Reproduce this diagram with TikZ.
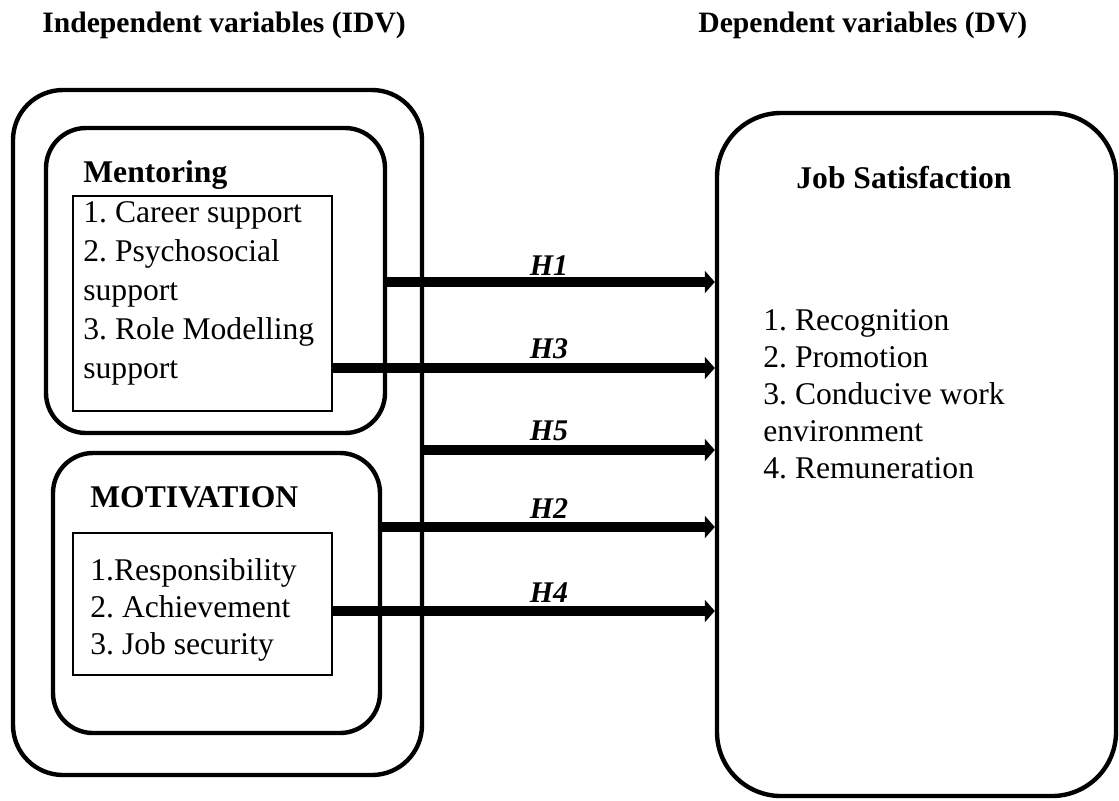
\documentclass[tikz,border=0pt]{standalone}
\usepackage{fontspec}
\setmainfont{Liberation Serif}
\usetikzlibrary{arrows.meta}

\begin{document}
\frenchspacing
\begin{tikzpicture}[x=0.5pt,y=-0.5pt,
    panel/.style={draw,line width=2.2pt,rounded corners=#1,inner sep=0pt},
    listbox/.style={draw,line width=0.7pt,inner sep=0pt},
    item/.style={anchor=base west,inner sep=0pt,font=\fontsize{15.8}{19}\selectfont},
    title/.style={item,font=\fontsize{15.8}{19}\selectfont\bfseries},
    heading/.style={item,font=\fontsize{14.8}{18}\selectfont\bfseries},
    hyp/.style={line width=5pt,-{Triangle[length=5pt,width=11pt]}},
    hlabel/.style={anchor=base,inner sep=0pt,font=\fontsize{15}{18}\selectfont\bfseries\itshape}]
            \useasboundingbox (0,0) rectangle (1119,800);
            % headings
            \node[heading] (idv) at (42,32) {Independent variables (IDV)};
            \node[heading] (dv) at (698,32) {Dependent variables (DV)};
            % boxes
            \node[panel=25pt,minimum width=204.5pt,minimum height=342.5pt] (outer) at (217.5,432.5) {};
            \node[panel=20pt,minimum width=169.5pt,minimum height=152.5pt] (mentor) at (215.5,280.5) {};
            \node[listbox,minimum width=129.5pt,minimum height=107.5pt] (mentlist) at (202.5,303.5) {};
            \node[panel=20pt,minimum width=163.5pt,minimum height=140pt] (motiv) at (216.5,593) {};
            \node[listbox,minimum width=129.5pt,minimum height=71pt] (motivlist) at (202.5,604) {};
            \node[panel=32pt,minimum width=199.5pt,minimum height=341.5pt] (js) at (916.5,454.5) {};
            % texts
            \node[title] (mentitle) at (83,182) {Mentoring};
            \foreach \txt [count=\i] in {1. Career support,2. Psychosocial,support,3. Role Modelling,support}{%
                    \node[item] (ment\i) at (83,{222+39*(\i-1)}) {\txt};
                }
            \node[title] (motivtitle) at (90,507) {MOTIVATION};
            \foreach \txt [count=\i] in {1.Responsibility,2. Achievement,3. Job security}{%
                    \node[item] (mot\i) at (90,{580+37*(\i-1)}) {\txt};
                }
            \node[title] (jstitle) at (796,188) {Job Satisfaction};
            \foreach \txt [count=\i] in {1. Recognition,2. Promotion,3. Conducive work,environment,4. Remuneration}{%
                    \node[item] (js\i) at (763,{330+37*(\i-1)}) {\txt};
                }
            % hypotheses
            \foreach \src/\y/\lab/\ly in {mentor/282/H1/275,mentlist/368/H3/358,outer/450/H5/440,motiv/527/H2/518,motivlist/611/H4/602}{%
                    \coordinate (y\lab) at (0,\y);
                    \draw[hyp] (\src.east |- y\lab) -- (js.west |- y\lab);
                    \node[hlabel] (\lab) at (549,\ly) {\lab};
                }
        \end{tikzpicture}
\end{document}
